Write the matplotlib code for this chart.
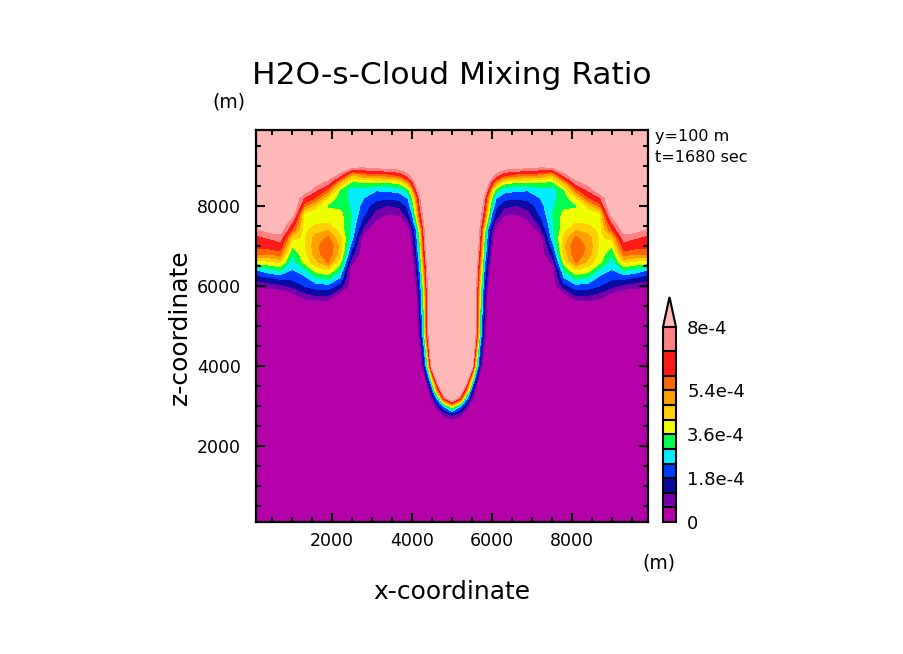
import matplotlib
matplotlib.use("Agg")
import matplotlib.pyplot as plt
import numpy as np
from matplotlib.colors import ListedColormap, BoundaryNorm
from matplotlib.ticker import MultipleLocator

# grid nodes in m; the picture is mirror symmetric about x = 5000 m,
# so only the left half of the columns is listed
x_half = [100, 400, 700, 1000, 1300, 1600, 1900, 2200, 2500, 2800, 3100, 3400,
          3700, 3900, 4000, 4100, 4200, 4300, 4400, 4500, 4650, 4800, 5000]
z_nodes = [100, 2000, 2600, 2800, 3000, 3200, 3400, 3700, 4000, 4800, 5400,
           5600, 5800, 6000, 6200, 6400, 6600, 6800, 7000, 7200, 7400, 7600,
           7800, 8000, 8200, 8400, 8600, 8800, 9000, 9200, 9900]

P = 9.5  # inside the pink cloud, above the top level
# cloud mixing ratio in units of 1e-4, one row per z node
q_half = [
    [0] * 23,
    [0] * 23,
    [0] * 23,
    [0] * 21 + [0.9, 1.4],
    [0] * 20 + [1.2, 2.6, 4.2],
    [0] * 19 + [0.85, 2.76, 6.7, P],
    [0] * 18 + [0.33, 1.75, 5.8, P, P],
    [0] * 18 + [1.68, 4.3, P, P, P],
    [0] * 17 + [1.21, 3.68, 8.45, P, P, P],
    [0] * 16 + [0.95, 3.1, 7.56, P, P, P, P],
    [0] * 16 + [1.43, 3.58, 7.6, P, P, P, P],
    [0, 0, 0, 0, 0.3, 0.4, 0.45, 0, 0, 0, 0, 0, 0, 0, 0, 0, 1.55, 3.71, 7.7, P, P, P, P],
    [0, 0, 0, 0.45, 1.05, 1.35, 1.4, 0.45, 0, 0, 0, 0, 0, 0, 0, 0.16, 1.69, 3.88, 7.8, P, P, P, P],
    [0.65, 0.85, 1.0, 1.35, 1.8, 2.1, 2.2, 1.5, 0, 0, 0, 0, 0, 0, 0, 0.46, 1.95, 4.16, 8.0, P, P, P, P],
    [1.45, 1.7, 1.95, 1.95, 2.2, 2.95, 3.15, 2.35, 0, 0, 0, 0, 0, 0, 0, 0.75, 2.2, 4.7, 8.0, P, P, P, P],
    [2.4, 2.8, 3.1, 2.35, 2.8, 3.9, 4.2, 3.1, 0, 0, 0, 0, 0, 0, 0, 1.03, 2.46, 5.1, 8.4, P, P, P, P],
    [3.9, 4.05, 4.35, 2.7, 3.75, 4.6, 5.5, 3.85, 0.7, 0, 0, 0, 0, 0, 0, 1.28, 2.73, 5.7, 8.6, P, P, P, P],
    [5.4, 5.45, 5.65, 3.0, 3.95, 5.1, 5.9, 4.45, 1.4, 0, 0, 0, 0, 0, 0.31, 1.57, 3.08, 6.17, 9.0, P, P, P, P],
    [6.2, 6.3, 6.5, 3.7, 4.05, 5.2, 5.95, 4.65, 2.0, 0, 0, 0, 0, 0, 0.6, 1.8, 3.45, 6.54, 9.3, P, P, P, P],
    [6.6, 7.05, 7.4, 4.4, 4.1, 5.05, 5.5, 4.4, 2.6, 0, 0, 0, 0, 0, 0.79, 2.0, 3.75, 6.9, P, P, P, P, P],
    [7.7, 8.4, 8.6, 5.9, 4.0, 4.55, 4.8, 4.0, 2.8, 0.9, 0, 0, 0, 0.3, 1.05, 2.28, 4.12, 7.3, P, P, P, P, P],
    [9.0, P, P, 7.05, 3.95, 4.05, 4.1, 3.9, 2.9, 1.45, 0.45, 0, 0, 0.9, 1.8, 3.15, 5.55, 7.88, P, P, P, P, P],
    [P, P, P, 8.6, 4.05, 3.95, 3.9, 3.8, 2.95, 1.9, 0.95, 0.6, 0.75, 1.6, 2.3, 4.0, 6.4, 8.3, P, P, P, P, P],
    [P, P, P, P, 5.6, 4.3, 3.5, 3.4, 2.9, 2.15, 1.4, 1.15, 1.35, 1.95, 2.9, 4.5, 7.0, 9.0, P, P, P, P, P],
    [P, P, P, P, 6.9, 5.85, 4.2, 3.3, 2.8, 2.4, 2.0, 1.9, 2.0, 2.45, 3.5, 5.2, 7.6, 9.3, P, P, P, P, P],
    [P, P, P, P, 8.9, 7.1, 5.7, 3.5, 2.7, 2.75, 2.45, 2.5, 2.65, 3.3, 4.5, 6.8, 8.6, P, P, P, P, P, P],
    [P, P, P, P, P, 8.6, 7.5, 5.0, 3.5, 3.7, 3.65, 3.65, 3.95, 5.3, 6.6, 8.3, P, P, P, P, P, P, P],
    [P, P, P, P, P, P, 9.2, 7.6, 5.0, 5.6, 5.9, 6.0, 6.5, 7.75, 8.7, 9.3, P, P, P, P, P, P, P],
    [P, P, P, P, P, P, P, P, 8.5, 8.3, 8.6, 8.8, 9.0, 9.4, P, P, P, P, P, P, P, P, P],
    [P] * 23,
    [P] * 23,
]

levels = [0, 0.6, 1.2, 1.8, 2.4, 3.0, 3.6, 4.2, 4.8, 5.4, 6.0, 7.0, 8.0]
fill_colors = ['#b400a8', '#7400ac', '#0a0aa0', '#003cff', '#00eeff', '#00ff50',
               '#f0ff00', '#ffd000', '#ffa000', '#ff6600', '#ff1a1a', '#ff8080']
over_color = '#ffb8b8'
cbar_ticks = [0, 1.8, 3.6, 5.4, 8.0]
cbar_labels = ['0', '1.8e-4', '3.6e-4', '5.4e-4', '8e-4']

# mirror the left half onto the right half
x_full = np.array(x_half + [10000 - v for v in x_half[-2::-1]], dtype=float)
q_full = np.array([row + row[-2::-1] for row in q_half], dtype=float) * 1e-4
z = np.array(z_nodes, dtype=float)
lev = np.array(levels) * 1e-4

cmap = ListedColormap(fill_colors)
cmap.set_over(over_color)
norm = BoundaryNorm(lev, cmap.N)

W, H = 904, 654
fig = plt.figure(figsize=(W / 100, H / 100), dpi=100)
ax = fig.add_axes([256 / W, 1 - 522 / H, 392 / W, 392 / H])

cs = ax.contourf(x_full, z, q_full, levels=lev, cmap=cmap, norm=norm, extend='max')

ax.set_xlim(100, 9900)
ax.set_ylim(100, 9900)
ax.set_xticks([2000, 4000, 6000, 8000])
ax.set_yticks([2000, 4000, 6000, 8000])
ax.xaxis.set_minor_locator(MultipleLocator(500))
ax.yaxis.set_minor_locator(MultipleLocator(500))
ax.tick_params(which='both', direction='in', top=True, right=True, width=1.5)
ax.tick_params(which='major', length=6.5, labelsize=12.5)
ax.tick_params(which='minor', length=3.5)
ax.tick_params(axis='x', pad=7)
ax.tick_params(axis='y', pad=11)
for s in ax.spines.values():
    s.set_linewidth(1.6)

def px(x, y, s, **kw):
    fig.text(x / W, 1 - y / H, s, **kw)

px(452, 75, 'H2O-s-Cloud Mixing Ratio', ha='center', va='center', fontsize=22.5)
px(229, 102, '(m)', ha='center', va='center', fontsize=13.5)
px(659, 563, '(m)', ha='center', va='center', fontsize=13.5)
px(452, 592, 'x-coordinate', ha='center', va='center', fontsize=18)
px(180, 327, 'z-coordinate', ha='center', va='center', fontsize=18, rotation=90)
px(655, 137, 'y=100 m', ha='left', va='center', fontsize=11.5)
px(655, 157, 't=1680 sec', ha='left', va='center', fontsize=11.5)

cax = fig.add_axes([663 / W, 1 - 522 / H, 13 / W, 225 / H])
cb = fig.colorbar(cs, cax=cax, ticks=np.array(cbar_ticks) * 1e-4,
                  spacing='proportional', drawedges=True, extendfrac=0.154)
cb.ax.minorticks_off()
cb.ax.set_yticks(np.array(cbar_ticks) * 1e-4)
cb.ax.set_yticklabels(cbar_labels)
cb.ax.tick_params(which='both', length=0, pad=8, labelsize=13)
cb.outline.set_linewidth(1.5)
cb.dividers.set_linewidth(1.5)

fig.savefig('out.png', dpi=100)
